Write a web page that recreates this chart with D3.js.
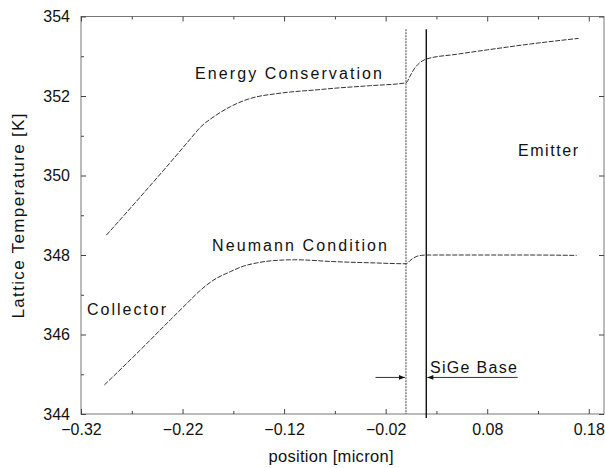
<!DOCTYPE html>
<html>
<head>
<meta charset="utf-8">
<script src="https://cdn.jsdelivr.net/npm/d3@7"></script>
<style>
  body { margin: 0; background: #fff; }
  text { font-family: "Liberation Sans", Arial, sans-serif; fill: #111; }
</style>
</head>
<body>
<div id="vis"></div>
<script>
//Data
var energyX = [-0.295, -0.262, -0.233, -0.213, -0.203, -0.188, -0.173, -0.160, -0.147, -0.130, -0.114, -0.09, -0.068, -0.035, 0.0, 0.004, 0.008, 0.012, 0.016, 0.020, 0.05, 0.08, 0.12, 0.17];
var energyY = [348.5, 349.45, 350.3, 350.9, 351.2, 351.5, 351.73, 351.88, 351.98, 352.05, 352.1, 352.15, 352.2, 352.26, 352.33, 352.5, 352.68, 352.8, 352.88, 352.93, 353.05, 353.16, 353.3, 353.45];

var neumannX = [-0.297, -0.262, -0.232, -0.215, -0.203, -0.19, -0.173, -0.160, -0.147, -0.130, -0.11, -0.068, -0.03, 0.0, 0.005, 0.010, 0.015, 0.02, 0.06, 0.12, 0.168];
var neumannY = [344.73, 345.6, 346.37, 346.8, 347.1, 347.36, 347.58, 347.72, 347.8, 347.86, 347.88, 347.83, 347.8, 347.78, 347.88, 347.96, 347.99, 348.0, 348.0, 348.0, 347.99];

var xTicks = [-0.32, -0.22, -0.12, -0.02, 0.08, 0.18];
var xMinor = [-0.27, -0.17, -0.07, 0.03, 0.13];
var yTicks = [344, 346, 348, 350, 352, 354];
var yMinor = [345, 347, 349, 351, 353];

//SiGe base edges (micron) and the arrow span
var baseEdges = [0, 0.02];
var edgeTop = 353.68;
var arrowSpan = [-0.03, 0.11];
var arrowLevel = 344.92;

var width = 605, height = 468;
var x = d3.scaleLinear().domain([-0.32, 0.195]).range([81, 604]);
var y = d3.scaleLinear().domain([344, 354]).range([414, 16.5]);

var svg = d3.select("#vis").append("svg")
    .attr("width", width)
    .attr("height", height);

var defs = svg.append("defs");
defs.append("marker")
    .attr("id", "head")
    .attr("viewBox", "0 0 10 10")
    .attr("refX", 10).attr("refY", 5)
    .attr("markerWidth", 7).attr("markerHeight", 6)
    .attr("markerUnits", "userSpaceOnUse")
    .attr("orient", "auto")
  .append("path")
    .attr("d", "M0,1 L10,5 L0,9 Z")
    .attr("fill", "#111");

//Frame
svg.append("rect")
    .attr("x", x.range()[0]).attr("y", y.range()[1])
    .attr("width", x.range()[1] - x.range()[0])
    .attr("height", y.range()[0] - y.range()[1])
    .attr("fill", "none")
    .attr("stroke", "#777")
    .attr("stroke-width", 1);

function styleAxis(g) {
  g.select(".domain").remove();
  g.selectAll("line").attr("stroke", "#444");
  g.selectAll("text").attr("font-size", 16).attr("fill", "#111")
    .attr("font-family", "Liberation Sans, Arial, sans-serif");
}

var fmtX = function(d) { return d3.format(".2f")(d).replace("-", "\u2212"); };

svg.append("g").attr("transform", "translate(0," + y.range()[0] + ")")
    .call(d3.axisBottom(x).tickValues(xTicks).tickSize(-5).tickPadding(10).tickFormat(fmtX))
    .call(styleAxis);
svg.append("g").attr("transform", "translate(0," + y.range()[0] + ")")
    .call(d3.axisBottom(x).tickValues(xMinor).tickSize(-3).tickFormat(""))
    .call(styleAxis);
svg.append("g").attr("transform", "translate(0," + y.range()[1] + ")")
    .call(d3.axisTop(x).tickValues(xTicks).tickSize(-5).tickFormat(""))
    .call(styleAxis);
svg.append("g").attr("transform", "translate(0," + y.range()[1] + ")")
    .call(d3.axisTop(x).tickValues(xMinor).tickSize(-3).tickFormat(""))
    .call(styleAxis);

svg.append("g").attr("transform", "translate(" + x.range()[0] + ",0)")
    .call(d3.axisLeft(y).tickValues(yTicks).tickSize(-5).tickPadding(11).tickFormat(d3.format("d")))
    .call(styleAxis);
svg.append("g").attr("transform", "translate(" + x.range()[0] + ",0)")
    .call(d3.axisLeft(y).tickValues(yMinor).tickSize(-3).tickFormat(""))
    .call(styleAxis);
svg.append("g").attr("transform", "translate(" + x.range()[1] + ",0)")
    .call(d3.axisRight(y).tickValues(yTicks).tickSize(-5).tickFormat(""))
    .call(styleAxis);

//Axis titles
svg.append("text")
    .attr("x", 331).attr("y", 462)
    .attr("text-anchor", "middle")
    .attr("font-size", 16.5)
    .attr("textLength", 125)
    .attr("lengthAdjust", "spacing")
    .text("position [micron]");
svg.append("text")
    .attr("transform", "translate(24," + 216 + ") rotate(-90)")
    .attr("text-anchor", "middle")
    .attr("font-size", 17)
    .attr("textLength", 205)
    .attr("lengthAdjust", "spacing")
    .text("Lattice Temperature [K]");

//Curves
var line = d3.line()
    .x(function(d) { return x(d[0]); })
    .y(function(d) { return y(d[1]); })
    .curve(d3.curveMonotoneX);

[[energyX, energyY], [neumannX, neumannY]].forEach(function(s) {
  svg.append("path")
      .datum(d3.zip(s[0], s[1]))
      .attr("d", line)
      .attr("fill", "none")
      .attr("stroke", "#333")
      .attr("stroke-width", 1)
      .attr("stroke-dasharray", "5,1.5");
});

//SiGe base edges
svg.append("line")
    .attr("x1", x(baseEdges[0])).attr("x2", x(baseEdges[0]))
    .attr("y1", y(edgeTop)).attr("y2", y(344))
    .attr("stroke", "#444").attr("stroke-width", 1)
    .attr("stroke-dasharray", "2,1");
svg.append("line")
    .attr("x1", x(baseEdges[1])).attr("x2", x(baseEdges[1]))
    .attr("y1", y(edgeTop)).attr("y2", y(344) + 4)
    .attr("stroke", "#111").attr("stroke-width", 1.4);

//Arrows pointing at the edges
svg.append("line")
    .attr("x1", x(arrowSpan[0])).attr("x2", x(baseEdges[0]) - 1)
    .attr("y1", y(arrowLevel)).attr("y2", y(arrowLevel))
    .attr("stroke", "#333").attr("stroke-width", 1)
    .attr("marker-end", "url(#head)");
svg.append("line")
    .attr("x1", x(arrowSpan[1])).attr("x2", x(baseEdges[1]) + 1)
    .attr("y1", y(arrowLevel)).attr("y2", y(arrowLevel))
    .attr("stroke", "#333").attr("stroke-width", 1)
    .attr("marker-end", "url(#head)");

//Annotations
function label(txt, px, py, len) {
  svg.append("text")
      .attr("x", px).attr("y", py)
      .attr("font-size", 16)
      .attr("textLength", len)
      .attr("lengthAdjust", "spacing")
      .text(txt);
}
label("Energy Conservation", 195, 79, 187);
label("Neumann Condition", 212, 251, 175);
label("Collector", 87, 315, 79);
label("Emitter", 518, 156, 60);
label("SiGe Base", 430, 373, 87);
</script>
</body>
</html>
